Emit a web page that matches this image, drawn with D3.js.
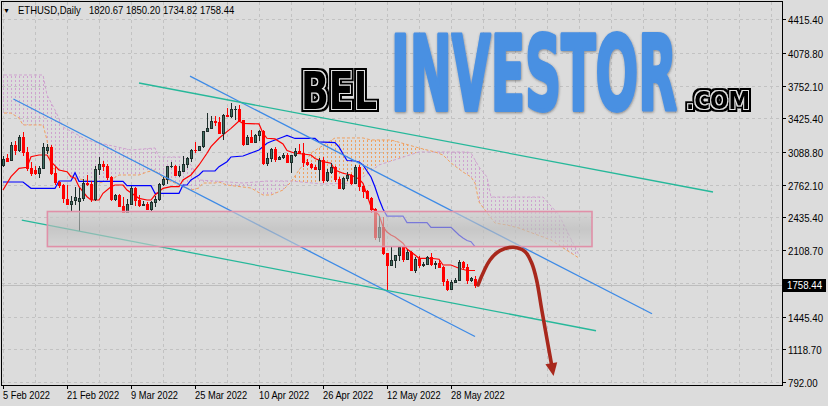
<!DOCTYPE html>
<html><head><meta charset="utf-8">
<script src="https://cdn.jsdelivr.net/npm/d3@7"></script>
<style>
html,body{margin:0;padding:0;background:#dcdcdc;}
svg{display:block;}
</style></head><body>
<svg id="c" width="828" height="406"></svg>
<script>
// ---------------- DATA ----------------
const symbolTitle = "ETHUSD,Daily";
const firstDay = new Date(2022, 1, 5);
const opens  = [2960,3030,3005,3160,3110,3240,3090,2925,2905,2880,2927,3105,3140,2880,2790,2760,2625,2575,2610,2600,2630,2780,2770,2620,2920,2970,2950,2835,2620,2665,2555,2495,2575,2730,2610,2560,2575,2520,2590,2620,2770,2815,2945,2950,2860,2895,2970,3030,3110,3105,3145,3295,3330,3400,3385,3280,3455,3445,3520,3520,3410,3170,3235,3190,3260,3300,2980,3030,3120,3020,3040,3060,2990,3060,3100,3080,2985,2965,2935,2920,3010,2810,2890,2940,2815,2730,2825,2855,2780,2940,2750,2700,2635,2520,2245,2340,2080,1960,2015,2060,2140,2025,2090,1915,2020,1960,1975,2040,1970,1980,1945,1800,1725,1795,1815,1995,1940,1815,1820.67];
const highs  = [3050,3065,3185,3200,3260,3285,3140,2990,2950,2950,3180,3170,3160,2940,2800,2770,2760,2650,2745,2730,2820,2860,2800,2945,3040,3000,2970,2845,2675,2670,2645,2620,2755,2740,2660,2605,2595,2600,2650,2780,2840,2950,2990,2955,2945,3045,3040,3120,3185,3150,3295,3480,3445,3445,3440,3465,3530,3580,3545,3555,3410,3255,3305,3270,3310,3305,3080,3130,3135,3050,3075,3080,3060,3125,3170,3180,3015,2980,2960,3030,3035,2915,2980,2950,2840,2840,2890,2870,2955,2955,2755,2715,2640,2530,2450,2440,2085,2145,2055,2140,2145,2110,2100,2040,2050,1990,2055,2080,2000,2015,1955,1820,1810,1830,2015,2000,1970,1845,1850.20];
const lows   = [2940,2985,2995,3060,3090,3050,2900,2850,2860,2830,2920,3070,2860,2760,2730,2580,2560,2490,2560,2300,2600,2750,2590,2600,2860,2900,2810,2600,2600,2550,2485,2490,2570,2550,2540,2555,2510,2505,2540,2600,2750,2770,2930,2850,2835,2890,2930,2985,3080,3100,3130,3285,3330,3350,3270,3210,3440,3430,3405,3405,3150,3160,3180,3180,3200,2960,2950,2985,2985,3010,3020,2985,2880,3035,3070,2940,2950,2920,2905,2800,2780,2790,2870,2790,2720,2710,2800,2765,2775,2700,2630,2620,2480,2210,2190,2060,1700,1950,1935,2005,1990,2020,1900,1880,1935,1940,1965,1950,1925,1940,1750,1705,1720,1790,1810,1915,1775,1790,1734.82];
const closes = [3015,3000,3160,3110,3240,3090,2925,2880,2880,2925,3140,3140,2880,2790,2760,2630,2575,2600,2640,2630,2780,2770,2620,2920,2970,2950,2835,2620,2665,2555,2495,2575,2730,2610,2560,2575,2520,2590,2620,2770,2815,2945,2950,2860,2895,2970,3030,3110,3105,3145,3295,3330,3400,3385,3280,3455,3445,3520,3520,3410,3170,3235,3190,3260,3300,2980,3030,3120,3020,3040,3060,2990,3060,3100,3080,2985,2965,2935,2920,3010,2810,2890,2940,2815,2730,2825,2855,2780,2940,2750,2700,2635,2520,2245,2340,2080,1960,2015,2060,2140,2025,2090,1915,2020,1960,1975,2040,1970,1980,1945,1800,1725,1795,1815,1995,1940,1815,1830,1758.44];

// Ichimoku lines: [bar index, price]
const tenkan = [[0,2710],[2,2843],[4,2927],[6,2937],[7,3043],[9,3060],[11,3060],[12,2993],[14,2910],[16,2893],[17,2843],[18,2827],[19,2743],[21,2643],[22,2610],[24,2610],[25,2677],[27,2743],[28,2760],[30,2760],[31,2710],[34,2627],[36,2610],[37,2610],[38,2660],[40,2727],[42,2743],[44,2743],[45,2810],[47,2860],[49,2960],[51,3077],[52,3143],[54,3227],[56,3293],[57,3326],[59,3400],[60,3376],[64,3370],[65,3277],[66,3227],[68,3220],[70,3170],[71,3105],[73,3077],[75,3070],[77,3060],[78,3025],[80,2993],[82,2977],[83,2910],[85,2877],[87,2860],[89,2820],[90,2777],[91,2660],[92,2543],[94,2460],[95,2344],[96,2290],[97,2260],[98,2241],[100,2178],[101,2120],[103,2061],[104,2028],[107,2028],[109,2018],[110,1961],[112,1961],[114,1928],[116,1906],[118,1906]];
const kijun = [[0,2790],[5,2790],[7,2727],[13,2727],[14,2800],[17,2800],[18,2883],[19,2797],[30,2797],[31,2753],[37,2753],[38,2677],[44,2677],[45,2760],[46,2760],[47,2810],[49,2860],[50,2900],[53,2900],[54,2943],[56,2993],[57,3040],[60,3050],[64,3110],[66,3177],[67,3195],[68,3210],[70,3240],[71,3255],[73,3225],[78,3225],[79,3190],[83,3183],[84,3140],[85,3070],[86,3005],[88,3000],[89,2990],[90,2960],[91,2900],[92,2840],[93,2740],[94,2620],[95,2520],[96,2450],[100,2450],[101,2385],[106,2385],[107,2337],[112,2337],[114,2260],[115,2230],[116,2205],[117,2194],[118,2144]];
const spanA = [[-1,3479],[2,3479],[4,3429],[5,3360],[10,3360],[11,3210],[12,2930],[16,2890],[18,2830],[24,2780],[27,2810],[29,2860],[34,2860],[36,2890],[38,2910],[40,2830],[47,2710],[49,2730],[50,2780],[53,2780],[54,2790],[56,2760],[60,2740],[62,2730],[65,2660],[67,2660],[70,2710],[72,2790],[74,2910],[76,3010],[77,3080],[79,3130],[81,3180],[83,3230],[90,3230],[92,3210],[97,3210],[104,3130],[108,3090],[110,3060],[112,2980],[115,2890],[117,2840],[118,2780],[119,2590],[122,2430],[123,2380],[126,2360],[129,2330],[137,2210],[144,2030]];
const spanB = [[-1,3859],[10,3859],[11,3659],[13,3509],[15,3340],[21,3210],[24,3180],[32,3110],[38,3130],[39,3040],[45,3040],[47,2960],[49,2810],[60,2780],[66,2800],[72,2800],[80,2770],[88,2780],[94,2960],[104,3090],[116,3090],[117,3080],[119,2940],[121,2840],[122,2640],[135,2640],[139,2460],[144,2060]];

// drawing objects: [bar index, price] endpoints
const channelBlue = [[[46.75,3847],[162.25,1474]], [[2.6,3619],[118,1247]]];
const channelTeal = [[[34,3779],[177.5,2690]], [[4.7,2410],[148.25,1304]]];
const zone = {from:11.1, to:147.25, top:2495, bottom:2145};
const arrowPath = [[118.75,1761],[121.75,2011],[124.25,2104],[127.6,2138],[130.5,2094],[132.2,1978],[133.4,1811],[134.7,1511],[137.3,930]];

const priceTicks = [4415.40,4078.80,3752.10,3425.40,3088.80,2762.10,2435.40,2108.70,1445.40,1118.70,792.00];
const hiddenTick = 1782.00;
const lastPrice = 1758.44;
const labelEvery = 16, gridEvery = 8;
const brand = ["BEL", "INVESTOR", ".COM"];

// ---------------- CHART ----------------
const svg = d3.select("#c");
const W = 828, H = 406;
const P = {l:2, t:2, r:782, b:385};
const x = d3.scaleLinear().domain([0,195]).range([3,783]);
const y = d3.scaleLinear().domain([792,4415.4]).range([382,19.3]);
const days = d3.timeDay.range(firstDay, d3.timeDay.offset(firstDay, closes.length));
const fmtDate = d3.timeFormat("%-d %b %Y");
const font = "'Liberation Sans', Arial, sans-serif";

svg.append("rect").attr("width",W).attr("height",H).attr("fill","#dcdcdc");

const defs = svg.append("defs");
defs.append("clipPath").attr("id","plot").append("rect")
  .attr("x",P.l).attr("y",P.t).attr("width",P.r-P.l).attr("height",P.b-P.t);
function hatch(id,color){
  const p = defs.append("pattern").attr("id",id).attr("patternUnits","userSpaceOnUse")
    .attr("width",4).attr("height",4).attr("x",0).attr("y",0);
  p.append("rect").attr("x",3).attr("y",0).attr("width",1).attr("height",2).attr("fill",color);
}
hatch("hA","#f0a060");
hatch("hB","#cfa2cf");
const g = defs.append("linearGradient").attr("id","zoneGrad").attr("x1",0).attr("y1",0).attr("x2",0).attr("y2",1);
g.append("stop").attr("offset","0").attr("stop-color","#d0d0d0");
g.append("stop").attr("offset","0.5").attr("stop-color","#bababa");
g.append("stop").attr("offset","1").attr("stop-color","#cfcfcf");

// outlined lettering filter (black outer rim, light inner line, black core)
const f = defs.append("filter").attr("id","outl").attr("x","-10%").attr("y","-20%").attr("width","120%").attr("height","140%");
f.append("feMorphology").attr("in","SourceAlpha").attr("operator","dilate").attr("radius",3).attr("result","outer");
f.append("feMorphology").attr("in","SourceAlpha").attr("operator","dilate").attr("radius",0.8).attr("result","d1");
f.append("feComposite").attr("in","d1").attr("in2","SourceAlpha").attr("operator","out").attr("result","ring");
f.append("feFlood").attr("flood-color","#e4e4e4").attr("result","lite");
f.append("feComposite").attr("in","lite").attr("in2","ring").attr("operator","in").attr("result","liteRing");
const fm = f.append("feMerge");
fm.append("feMergeNode").attr("in","outer");
fm.append("feMergeNode").attr("in","liteRing");
fm.append("feMergeNode").attr("in","SourceGraphic");
const sh = defs.append("filter").attr("id","shad").attr("x","-5%").attr("y","-5%").attr("width","110%").attr("height","115%");
sh.append("feDropShadow").attr("dx",0.5).attr("dy",1).attr("stdDeviation",1.2).attr("flood-color","#333").attr("flood-opacity",0.5);

const plot = svg.append("g").attr("clip-path","url(#plot)");

// grid
const grid = plot.append("g").attr("stroke","#c2c2c2").attr("stroke-dasharray","3,3").attr("stroke-width",1);
for (let i = 0; x(i) < P.r; i += gridEvery) {
  const X = Math.round(x(i)) + 0.5;
  grid.append("line").attr("x1",X).attr("x2",X).attr("y1",P.t).attr("y2",P.b);
}
priceTicks.concat([hiddenTick]).forEach(p => {
  const Y = Math.round(y(p)) + 0.5;
  grid.append("line").attr("x1",P.l).attr("x2",P.r).attr("y1",Y).attr("y2",Y);
});
// bid line
const LY = Math.round(y(lastPrice));
plot.append("line").attr("x1",P.l).attr("x2",P.r).attr("y1",LY+0.5).attr("y2",LY+0.5)
  .attr("stroke","#bdbdbd").attr("stroke-width",1);

// cloud
const lineGen = d3.line().x(d => x(d[0])).y(d => y(d[1]));
const areaDown = pts => d3.area().x(d => x(d[0])).y0(P.b).y1(d => y(d[1]))(pts);
const areaUp = pts => d3.area().x(d => x(d[0])).y0(P.t).y1(d => y(d[1]))(pts);
defs.append("clipPath").attr("id","aboveB").append("path").attr("d", areaUp(spanB));
defs.append("clipPath").attr("id","aboveA").append("path").attr("d", areaUp(spanA));
plot.append("g").attr("clip-path","url(#aboveB)").append("path").attr("d", areaDown(spanA)).attr("fill","url(#hA)");
plot.append("g").attr("clip-path","url(#aboveA)").append("path").attr("d", areaDown(spanB)).attr("fill","url(#hB)");
plot.append("path").attr("d", lineGen(spanB)).attr("fill","none").attr("stroke","#cfa2cf").attr("stroke-dasharray","3,2");
plot.append("path").attr("d", lineGen(spanA)).attr("fill","none").attr("stroke","#f0a060").attr("stroke-dasharray","3,2");

// tenkan / kijun
plot.append("path").attr("d", lineGen(kijun)).attr("fill","none").attr("stroke","#0000ff").attr("stroke-width",1.2);
plot.append("path").attr("d", lineGen(tenkan)).attr("fill","none").attr("stroke","#ff0000").attr("stroke-width",1.2);

// candles
const cg = plot.append("g").attr("shape-rendering","crispEdges");
closes.forEach((c, i) => {
  const o = opens[i], h = highs[i], l = lows[i];
  const X = Math.round(x(i));
  const bull = c >= o;
  const top = Math.round(y(Math.max(o,c))), bot = Math.round(y(Math.min(o,c)));
  const col = bull ? "#1f2e2b" : "#ff0000";
  cg.append("rect").attr("x",X).attr("y",Math.round(y(h))).attr("width",1)
    .attr("height",Math.max(1,Math.round(y(l))-Math.round(y(h)))).attr("fill",col);
  cg.append("rect").attr("x",X-1).attr("y",top).attr("width",3).attr("height",Math.max(1,bot-top+1)).attr("fill",col);
  if (bull && bot-top > 1) {
    cg.append("rect").attr("x",X).attr("y",top+1).attr("width",1).attr("height",bot-top-1).attr("fill","#3f6f60");
  }
});

// trend lines
channelBlue.forEach(s => plot.append("path").attr("d", lineGen(s)).attr("stroke","#3d8ae6").attr("stroke-width",1.3).attr("fill","none"));
channelTeal.forEach(s => plot.append("path").attr("d", lineGen(s)).attr("stroke","#26b89a").attr("stroke-width",1.3).attr("fill","none"));

// zone rectangle (semi transparent)
const zx0 = x(zone.from), zx1 = x(zone.to), zy0 = y(zone.top), zy1 = y(zone.bottom);
plot.append("rect").attr("x",zx0).attr("y",zy0).attr("width",zx1-zx0).attr("height",zy1-zy0)
  .attr("fill","url(#zoneGrad)").attr("fill-opacity",0.62)
  .attr("stroke","#e090a8").attr("stroke-width",1.6);

// arrow
const arrowLine = d3.line().x(d => x(d[0])).y(d => y(d[1])).curve(d3.curveCatmullRom.alpha(0.5));
const ap = arrowPath.map(d => [x(d[0]), y(d[1])]);
const n = ap.length;
const dx = ap[n-1][0]-ap[n-2][0], dy = ap[n-1][1]-ap[n-2][1], len = Math.hypot(dx,dy);
const ux = dx/len, uy = dy/len;
const tip = [ap[n-1][0]+ux*8, ap[n-1][1]+uy*8];
const base = [tip[0]-ux*13, tip[1]-uy*13];
plot.append("path").attr("d", arrowLine(arrowPath)).attr("fill","none").attr("stroke","#a8281c")
  .attr("stroke-width",3.6).attr("stroke-linecap","round");
plot.append("path").attr("d", `M${tip[0]},${tip[1]}L${base[0]-uy*6},${base[1]+ux*6}L${base[0]+uy*6},${base[1]-ux*6}Z`).attr("fill","#a8281c");

// watermark (scaled with transforms so boxes stay true)
const wm = svg.append("g");
function fitText(parent, txt, x0, base, size, width, attrs){
  const t = parent.append("text").attr("x",0).attr("y",0).text(txt)
    .attr("font-family","'DejaVu Sans', sans-serif").attr("font-weight","bold").attr("font-size",size);
  Object.entries(attrs||{}).forEach(([k,v]) => t.attr(k,v));
  const w = t.node().getComputedTextLength();
  t.attr("transform", `translate(${x0},${base}) scale(${width/w},1)`);
  return t;
}
fitText(wm.append("g").attr("filter","url(#outl)"), brand[0], 301, 109, 52, 76, {fill:"#000"});
fitText(wm.append("g").attr("filter","url(#shad)"), brand[1], 391, 110, 103, 286,
  {fill:"#4a90e2", stroke:"#4a90e2", "stroke-width":4, "stroke-linejoin":"round"});
fitText(wm.append("g").attr("filter","url(#outl)"), brand[2], 686, 109, 24, 64, {fill:"#000"});

// frame
svg.append("rect").attr("x",P.l-0.5).attr("y",P.t-0.5).attr("width",P.r-P.l+1).attr("height",P.b-P.t+1)
  .attr("fill","none").attr("stroke","#000").attr("shape-rendering","crispEdges");

// plain label helper: natural text squeezed horizontally by a transform
function label(parent, txt, x0, base, sx, fill){
  return parent.append("text").attr("transform",`translate(${x0},${base}) scale(${sx},1)`)
    .attr("fill", fill || "#000").text(txt);
}

// header
const hdr = svg.append("g").attr("font-family",font).attr("font-size",10).attr("fill","#000");
hdr.append("text").attr("x",3).attr("y",13).attr("font-size",7).text("▼");
label(hdr, symbolTitle, 18, 14, 0.95);
label(hdr, [opens, highs, lows, closes].map(a => a[a.length-1].toFixed(2)).join(" "), 89, 14, 0.95);

// y axis
const ya = svg.append("g").attr("font-family",font).attr("font-size",10).attr("fill","#000");
priceTicks.forEach(p => {
  const Y = Math.round(y(p)) + 0.5;
  ya.append("line").attr("x1",P.r).attr("x2",P.r+4).attr("y1",Y).attr("y2",Y).attr("stroke","#000");
  label(ya, p.toFixed(2), P.r+6, Y+4, 0.97);
});
svg.append("rect").attr("x",P.r+1).attr("y",LY-6).attr("width",43).attr("height",13).attr("fill","#000");
label(svg.append("g").attr("font-family",font).attr("font-size",10), lastPrice.toFixed(2), P.r+5, LY+4, 0.97, "#fff");

// x axis
const xa = svg.append("g").attr("font-family",font).attr("font-size",10).attr("fill","#000");
for (let i = 0; i < days.length; i += labelEvery) {
  const X = Math.round(x(i)) + 0.5;
  xa.append("line").attr("x1",X).attr("x2",X).attr("y1",P.b).attr("y2",P.b+4).attr("stroke","#000");
  label(xa, fmtDate(days[i]), X-0.5, 399, 0.93);
}
</script></body></html>
